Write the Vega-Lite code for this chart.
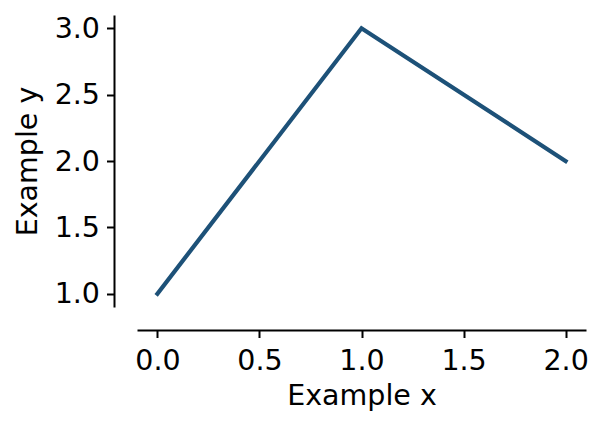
{
  "$schema": "https://vega.github.io/schema/vega-lite/v6.json",
  "width": 449,
  "height": 292,
  "autosize": {"type": "none"},
  "padding": {"left": 137, "top": 15, "right": 18, "bottom": 119},
  "config": {
    "view": {"stroke": null},
    "font": "DejaVu Sans",
    "axis": {
      "grid": false,
      "domainColor": "black",
      "domainWidth": 2,
      "tickColor": "black",
      "tickWidth": 2,
      "tickSize": 7.5,
      "labelFont": "DejaVu Sans",
      "labelFontSize": 28.5,
      "labelColor": "black",
      "labelPadding": 7,
      "titleFont": "DejaVu Sans",
      "titleFontSize": 28.5,
      "titleFontWeight": "normal",
      "titleColor": "black",
      "offset": 23
    }
  },
  "data": {
    "values": [
      {"x": 0, "y": 1},
      {"x": 1, "y": 3},
      {"x": 2, "y": 2}
    ]
  },
  "mark": {"type": "line", "color": "#1d5178", "strokeWidth": 4.2, "strokeCap": "square", "clip": false},
  "encoding": {
    "x": {
      "field": "x",
      "type": "quantitative",
      "scale": {"domain": [-0.1, 2.1], "nice": false, "zero": false},
      "axis": {"title": "Example x", "values": [0, 0.5, 1, 1.5, 2], "format": ".1f", "labelFlush": false, "labelPadding": 9, "titlePadding": 6}
    },
    "y": {
      "field": "y",
      "type": "quantitative",
      "scale": {"domain": [0.9, 3.1], "nice": false, "zero": false},
      "axis": {"title": "Example y", "values": [1, 1.5, 2, 2.5, 3], "format": ".1f", "labelFlush": false, "titlePadding": 12}
    }
  }
}
